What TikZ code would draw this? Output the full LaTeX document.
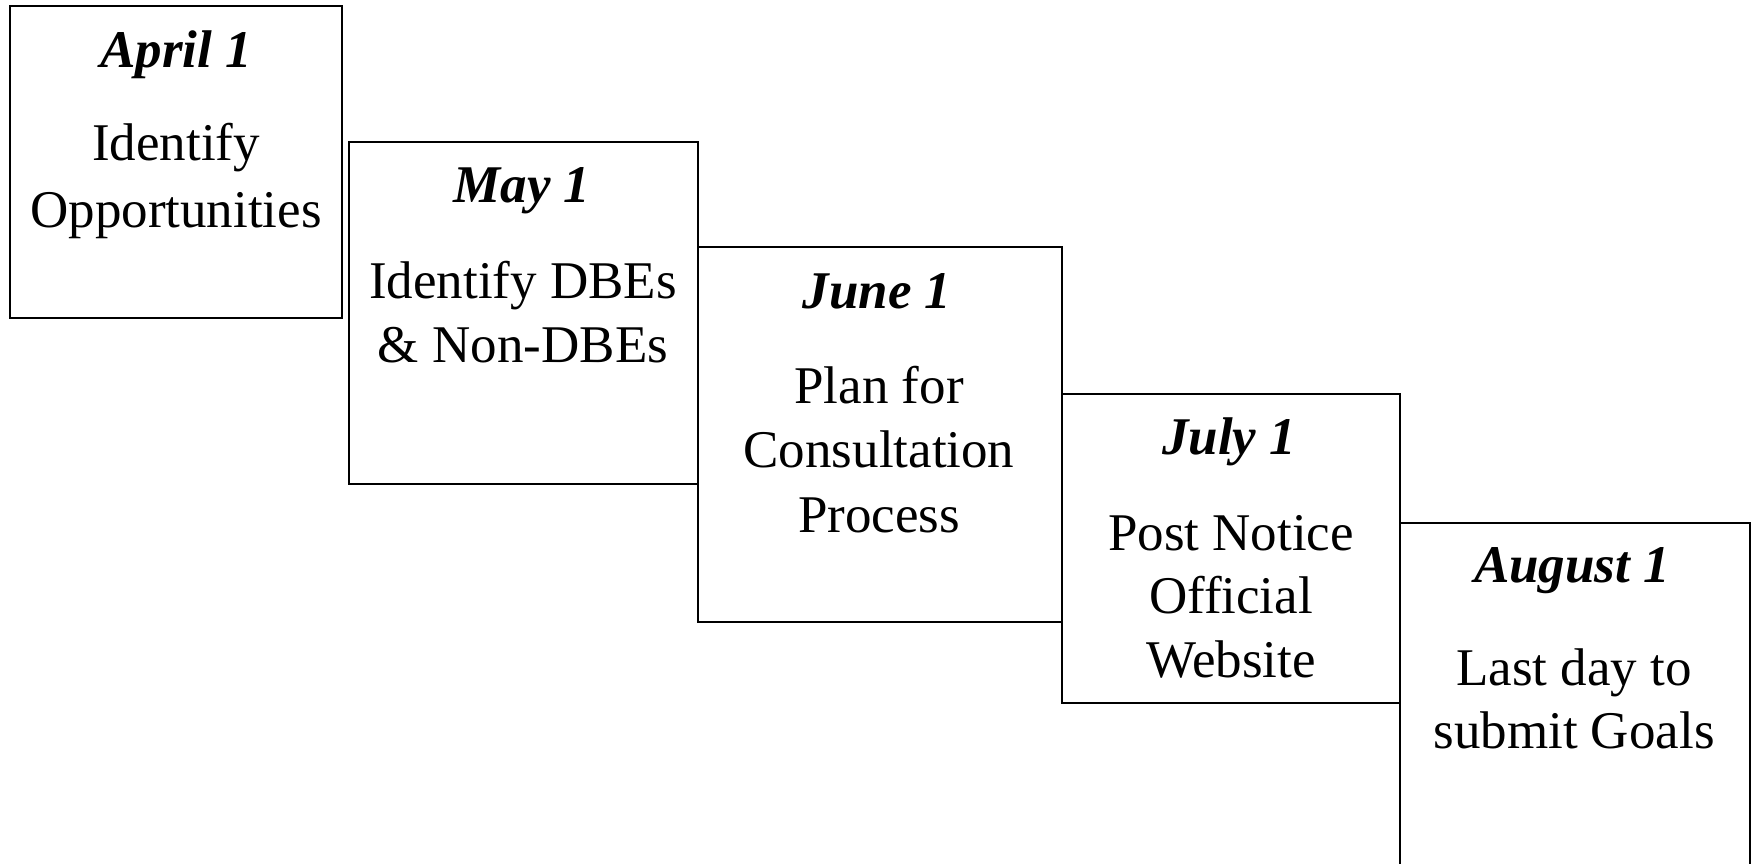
\documentclass[tikz,border=0pt]{standalone}
\usepackage{fontspec}
\setmainfont{Liberation Serif}
\begin{document}
\begin{tikzpicture}[x=0.5pt,y=-0.5pt,
  stage/.style={draw=black, line width=1pt, fill=white},
  datetxt/.style={anchor=base, inner sep=0pt, font=\fontsize{26.5}{32}\selectfont\bfseries\itshape},
  bodytxt/.style={anchor=base, inner sep=0pt, font=\fontsize{26.5}{32}\selectfont}]
\clip (0,0) rectangle (1754,863);
\useasboundingbox (0,0) rectangle (1754,863);

% stage boxes, stepping down to the right
\draw[stage, line width=1.4pt] (10,6) rectangle (342,318);
\draw[stage] (349,142) rectangle (698,484);
\draw[stage] (698,247) rectangle (1062,622);
\draw[stage] (1062,394) rectangle (1400,703);
\draw[stage] (1400,523) rectangle (1750,900);

% April
\node[datetxt] (d1) at (176,67) {April 1};
\node[bodytxt] (a1) at (176,160) {Identify};
\node[bodytxt] (a2) at (176,227) {Opportunities};

% May
\node[datetxt] (d2) at (522,202) {May 1};
\node[bodytxt] (b1) at (523,298) {Identify DBEs};
\node[bodytxt] (b2) at (523,362) {\& Non-DBEs};

% June
\node[datetxt] (d3) at (877,308) {June 1};
\node[bodytxt] (c1) at (879,403) {Plan for};
\node[bodytxt] (c2) at (879,467) {Consultation};
\node[bodytxt] (c3) at (879,532) {Process};

% July
\node[datetxt] (d4) at (1229,454) {July 1};
\node[bodytxt] (e1) at (1231,550) {Post Notice};
\node[bodytxt] (e2) at (1231,613) {Official};
\node[bodytxt] (e3) at (1231,677) {Website};

% August
\node[datetxt] (d5) at (1572,582) {August 1};
\node[bodytxt] (f1) at (1574,685) {Last day to};
\node[bodytxt] (f2) at (1574,748) {submit Goals};
\end{tikzpicture}
\end{document}
